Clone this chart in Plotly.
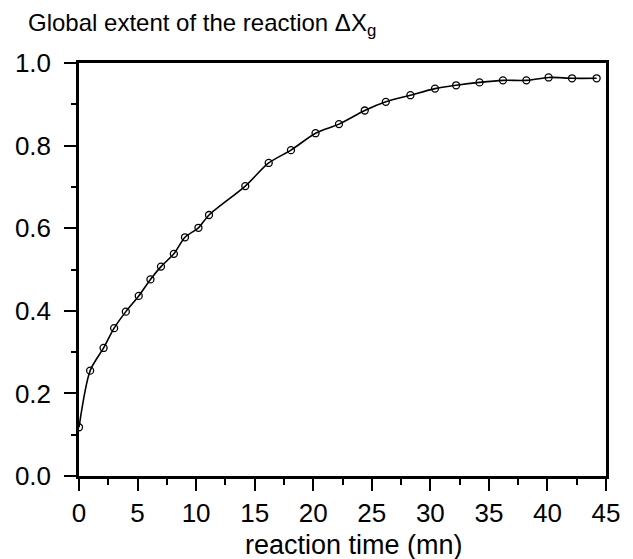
import plotly.graph_objects as go

# reaction time (mn)
time_mn = [0.0, 0.95, 2.1, 3.0, 4.0, 5.1, 6.1, 7.0, 8.1, 9.05, 10.2, 11.1,
           14.2, 16.2, 18.1, 20.2, 22.2, 24.4, 26.2, 28.3, 30.4, 32.2,
           34.2, 36.2, 38.2, 40.1, 42.1, 44.2]
# Global extent of the reaction ΔXg
extent = [0.118, 0.255, 0.310, 0.358, 0.398, 0.436, 0.476, 0.507, 0.538, 0.578,
          0.601, 0.632, 0.702, 0.758, 0.789, 0.830, 0.852, 0.885, 0.906, 0.922,
          0.938, 0.946, 0.953, 0.958, 0.958, 0.965, 0.963, 0.963]

x_ticks = [0, 5, 10, 15, 20, 25, 30, 35, 40, 45]
y_ticks = [0.0, 0.2, 0.4, 0.6, 0.8, 1.0]
y_tick_labels = ["0.0", "0.2", "0.4", "0.6", "0.8", "1.0"]

FONT = "Liberation Sans, Arial, sans-serif"

fig = go.Figure()
fig.add_trace(go.Scatter(
    x=time_mn, y=extent,
    mode="lines+markers",
    line=dict(color="black", width=1.6, shape="spline", smoothing=0.8),
    marker=dict(symbol="circle-open", size=7, color="black", line=dict(width=1.3)),
    showlegend=False,
))

fig.update_layout(
    width=633, height=559,
    margin=dict(l=79, r=27, t=63, b=83),
    paper_bgcolor="white", plot_bgcolor="white",
    font=dict(family=FONT, color="black"),
    title=dict(
        text="Global extent of the reaction ΔX<sub>g</sub>",
        font=dict(family=FONT, size=24, color="black"),
        xref="container", x=28 / 633, xanchor="left",
        yref="container", y=1 - 14 / 559, yanchor="top",
    ),
    annotations=[dict(
        text="reaction time (mn)",
        font=dict(family=FONT, size=27, color="black"),
        xref="paper", x=0.522, xanchor="center",
        yref="paper", y=-53 / 413, yanchor="top",
        borderpad=0,
        showarrow=False,
    )],
)

fig.update_xaxes(
    range=[0, 45], automargin=False,
    tickmode="array", tickvals=x_ticks, ticktext=[str(v) for v in x_ticks],
    ticks="outside", ticklen=12, tickwidth=2, tickcolor="black",
    minor=dict(dtick=2.5, ticks="outside", ticklen=6, tickwidth=2, tickcolor="black"),
    showline=True, linecolor="black", linewidth=2.5, mirror=True,
    showgrid=False, zeroline=False,
    tickfont=dict(family=FONT, size=26, color="black"),
)
fig.update_yaxes(
    range=[0, 1.0], automargin=False,
    tickmode="array", tickvals=y_ticks, ticktext=y_tick_labels,
    ticks="outside", ticklen=12, tickwidth=2, tickcolor="black",
    minor=dict(dtick=0.1, ticks="outside", ticklen=5, tickwidth=2, tickcolor="black"),
    showline=True, linecolor="black", linewidth=2.5, mirror=True,
    showgrid=False, zeroline=False,
    ticklabelstandoff=8,
    tickfont=dict(family=FONT, size=26, color="black"),
)

fig.write_html("out.html", config={"displayModeBar": False},
               post_script="document.body.style.margin='0';document.body.style.overflow='hidden';")
